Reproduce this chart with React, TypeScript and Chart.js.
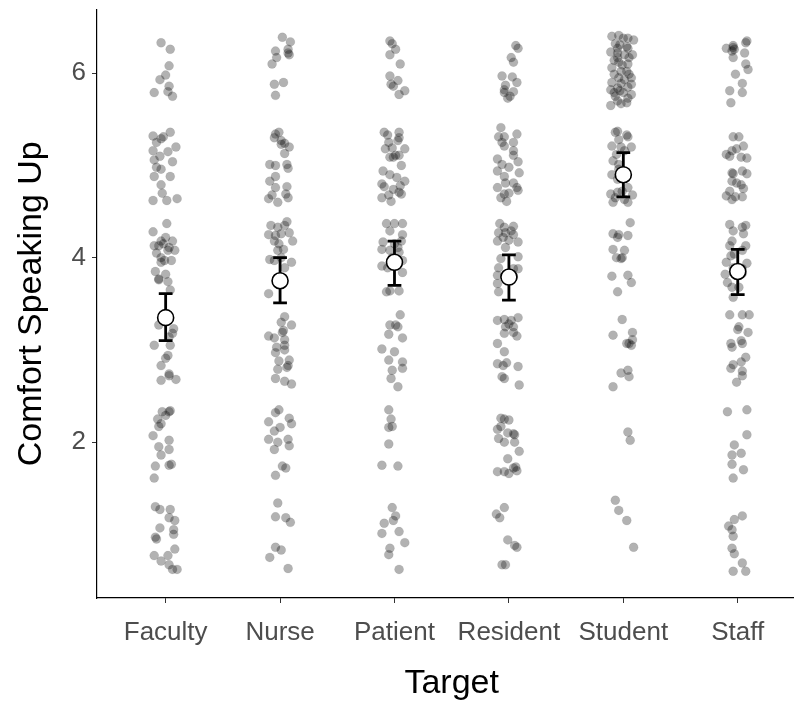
import { useEffect, useRef } from "react";
import { Chart, registerables } from "chart.js";

Chart.register(...registerables);

const categories = ["Faculty", "Nurse", "Patient", "Resident", "Student", "Staff"];
const yTickValues = [2, 4, 6];
const meanValues = [3.35, 3.75, 3.95, 3.79, 4.9, 3.85];
const ciLow = [3.1, 3.51, 3.7, 3.54, 4.66, 3.6];
const ciHigh = [3.61, 4.0, 4.18, 4.03, 5.14, 4.09];

// jitter in hundredths of a category step
const facultyY = [
  6.33, 6.26, 6.08, 5.98, 5.93, 5.86, 5.79, 5.8, 5.75,
  5.36, 5.32, 5.29, 5.31, 5.25, 5.2, 5.16, 5.15, 5.1, 5.06, 5.04, 4.98, 4.96, 4.88, 4.88, 4.79, 4.7, 4.62, 4.62, 4.64,
  4.37, 4.28, 4.22, 4.18, 4.13, 4.15, 4.18, 4.08, 4.05, 4.08, 4.0, 3.97, 3.97, 3.95, 4.13, 4.11, 3.85, 3.82, 3.76, 3.74, 3.65, 3.77,
  3.27, 3.23, 3.18, 3.14, 3.05, 3.05, 2.94, 2.91, 2.83, 2.74, 2.67, 2.68, 2.72,
  2.33, 2.33, 2.34, 2.25, 2.29, 2.2, 2.17, 2.07, 2.02, 1.95, 1.92, 1.86, 1.74, 1.75, 1.76, 1.61,
  1.3, 1.27, 1.27, 1.18, 1.15, 1.07, 1.05, 0.97, 0.95, 1.0, 0.84, 0.77, 0.77, 0.71, 0.67, 0.62, 0.62,
];
const facultyJitter = [
  -4, 4, 3, 0, -5, 3, -10, 2, 6,
  4, -11, -4, -2, -8, 9, -11, 2, -5, -10, 6, -8, -4, 4, -10, -4, -3, -11, 1, 10,
  1, -11, 0, -4, -10, -2, 6, 8, -8, 2, -4, -1, 5, -4, -6, 3, -9, 0, -6, 2, 4, -6,
  -6, 7, 6, 3, -10, 4, 2, 0, -4, 3, -4, 9, 3,
  -3, 3, 4, -7, 0, -4, -6, -11, 3, -6, 3, -4, -9, 3, 5, -10,
  -9, -5, 4, 3, 8, -5, 7, -9, -8, 7, 8, -10, 2, -4, 3, 6, 10,
];

const nurseY = [
  6.39, 6.34, 6.24, 6.26, 6.2, 6.17, 6.1, 6.22, 5.88, 5.9, 5.76,
  5.34, 5.36, 5.3, 5.27, 5.24, 5.2, 5.13, 5.01, 5.0, 5.01, 4.97, 4.88, 4.83, 4.76, 4.77, 4.69, 4.68, 4.65, 4.6, 4.64, 5.23,
  4.39, 4.35, 4.33, 4.35, 4.27, 4.25, 4.24, 4.26, 4.18, 4.18, 4.15, 4.09, 4.08, 3.98, 3.95, 3.89, 4.0, 3.97, 3.61,
  3.36, 3.3, 3.27, 3.21, 3.15, 3.13, 3.11, 3.03, 3.05, 2.97, 3.0, 2.88, 2.89, 2.81, 2.79, 2.69, 2.66, 2.63, 3.19, 2.83,
  2.35, 2.32, 2.22, 2.26, 2.2, 2.12, 2.16, 2.03, 2.0, 2.03, 1.96, 1.92, 1.74, 1.72, 1.64,
  1.34, 1.19, 1.18, 1.13, 0.86, 0.83, 0.75, 0.63,
];
const nurseJitter = [
  2, 9, -4, 7, 8, -3, -7, 7, -5, 3, -4,
  -4, -1, -5, 1, 4, 8, 4, -9, -4, 6, 7, -4, -9, -4, 6, 5, -7, 7, -2, -10, 1,
  6, -8, -2, 4, 8, -10, -4, 1, -5, 11, -1, 3, -2, -9, 10, 4, 1, -5, -10,
  4, 1, 10, 3, -10, -5, 4, -3, 4, -4, 4, -1, 8, 6, -2, -4, 4, 10, 2, 7,
  -1, -4, -10, 8, 10, -5, 0, -10, -2, 7, 8, -5, 2, 5, -4,
  -2, -4, 5, 9, -4, 1, -9, 7,
];

const patientY = [
  6.35, 6.32, 6.26, 6.2, 6.1, 5.97, 5.92, 5.88, 5.86, 5.81, 5.77,
  5.36, 5.33, 5.36, 5.3, 5.27, 5.25, 5.18, 5.18, 5.19, 5.11, 5.09, 5.11, 5.09, 5.0, 4.94, 4.9, 4.87, 4.83, 4.8, 4.77, 4.78, 4.74, 4.71, 4.68, 4.65, 4.61, 4.69,
  4.37, 4.37, 4.37, 4.29, 4.25, 4.18, 4.17, 4.15, 4.09, 4.08, 4.06, 3.97, 3.91, 3.89, 3.84, 3.63, 3.64, 3.64, 4.0, 4.11,
  3.38, 3.27, 3.27, 3.25, 3.17, 3.13, 3.01, 2.98, 2.89, 2.87, 2.78, 2.8, 2.69, 2.6,
  2.35, 2.25, 2.16, 2.17, 1.98, 1.75, 1.74,
  1.29, 1.2, 1.15, 1.12, 1.01, 1.03, 0.91, 0.85, 0.78, 0.62,
];
const patientJitter = [
  -4, -2, 1, -4, 5, -4, 3, -3, -1, 9, 4,
  -9, -6, 4, 4, 3, -5, -8, 9, -2, 1, -4, 4, -1, 6, -10, -4, 2, 9, -11, -9, 5, -1, 4, -5, -11, -3, 6,
  -7, 0, 7, -4, 7, 6, -10, 0, -11, -4, 4, 7, -11, -6, 7, -7, 4, -4, -2, 3,
  5, -4, 1, 3, -5, 7, -11, 0, -5, 7, -2, 7, -3, 3,
  -5, -3, -5, -2, -5, -11, 3,
  -2, 1, -1, -9, -11, 4, 9, -4, -5, 4,
];

const residentY = [
  6.3, 6.27, 6.17, 6.12, 5.97, 5.96, 5.9, 5.87, 5.8, 5.79, 5.73, 5.75, 5.82,
  5.41, 5.31, 5.31, 5.34, 5.25, 5.25, 5.21, 5.16, 5.11, 5.07, 5.04, 5.01, 4.98, 4.94, 4.92, 4.88, 4.81, 4.81, 4.76, 4.7, 4.76, 4.69, 4.65, 4.61, 4.73,
  4.37, 4.33, 4.34, 4.27, 4.27, 4.29, 4.22, 4.18, 4.19, 4.17, 4.25, 4.11, 3.99, 4.01, 3.89, 3.88, 3.88, 3.81, 3.79, 3.72, 3.63,
  3.32, 3.33, 3.32, 3.35, 3.25, 3.25, 3.18, 3.19, 3.15, 3.07, 2.98, 2.85, 2.83, 2.86, 2.82, 2.71, 2.69, 2.62, 3.28,
  2.26, 2.25, 2.24, 2.14, 2.17, 2.1, 2.09, 2.08, 2.04, 2.0, 2.0, 1.9, 1.82, 1.68, 1.68, 1.66, 1.72, 1.69, 1.73,
  1.29, 1.22, 1.18, 0.94, 0.88, 0.86, 0.67, 0.67,
];
const residentJitter = [
  6, 8, 2, 4, -6, 3, 7, -3, 4, -4, -1, 1, -4,
  -7, -9, -4, 7, -6, 4, -4, 4, 4, -10, 8, -6, 0, -10, 9, -4, -3, 4, -10, 0, 7, -4, -7, -2, 8,
  -8, -4, 4, -9, -3, 2, -5, -10, 0, 8, 4, -3, -7, 8, -9, 4, 8, -10, 4, -10, -9,
  -10, -4, 2, 8, -3, 4, -4, 4, 7, -10, -4, -10, -5, -2, 8, -6, -4, 9, 0,
  -7, -4, 0, -10, -7, -1, 4, 5, -9, -4, 5, 9, -1, -10, -4, 0, 4, 7, 6,
  -4, -11, -8, -1, 5, 7, -6, -3,
];

const studentY = [
  6.4, 6.41, 6.38, 6.36, 6.38, 6.32, 6.31, 6.29, 6.23, 6.22, 6.2, 6.2, 6.17, 6.14, 6.12, 6.09, 6.1, 6.17, 6.02, 5.99, 5.99, 5.95,
  5.93, 5.9, 5.89, 5.88, 5.84, 5.85, 5.82, 5.81, 5.79, 5.77, 5.75, 5.73, 5.7, 5.68, 5.65, 5.67, 5.79, 5.95, 6.02, 6.06, 6.27, 6.27,
  5.36, 5.37, 5.33, 5.28, 5.31, 5.21, 5.2, 5.2, 5.12, 5.16, 5.05, 5.01, 4.9, 4.85, 4.96, 4.69, 4.65, 4.63, 4.68, 4.71, 4.6, 4.72, 4.6, 4.76,
  4.38, 4.26, 4.25, 4.22, 4.24, 4.09, 4.08, 4.0, 3.99, 4.0, 3.8, 3.81, 3.73, 3.63,
  3.33, 3.16, 3.19, 3.07, 3.11, 3.07, 3.05, 2.78, 2.75, 2.71, 2.6,
  2.11, 2.02,
  1.37, 1.26, 1.15, 0.86,
];
const studentJitter = [
  -10, -4, 0, 9, 4, -7, -3, 3, -11, -5, 8, 1, 5, -8, -4, -1, 4, -5, 3, -8, 5, -4,
  1, -10, -2, 7, -5, 4, -11, -3, 0, 7, -7, 4, -5, 3, -11, -2, -8, 7, -2, -10, -5, 4,
  -7, -5, 3, -4, 4, -10, -2, 7, -6, 1, -9, -4, -10, -5, -4, -11, -7, 1, 8, -5, 4, -1, -9, 4,
  6, -9, -4, -5, 4, -9, 1, -6, -2, -1, -10, 4, 7, -5,
  -1, -9, 8, 3, 8, 5, 7, 4, -2, 5, -9,
  4, 6,
  -7, -4, 3, 9,
];

const staffY = [
  6.27, 6.3, 6.26, 6.33, 6.35, 6.22, 6.17, 6.1, 6.04, 5.99, 5.89, 5.81, 5.79, 5.68, 6.24, 6.28,
  5.31, 5.31, 5.21, 5.12, 5.16, 5.18, 5.1, 5.09, 5.08, 4.92, 4.91, 4.94, 4.91, 4.83, 4.81, 4.75, 4.67, 4.63, 4.66, 4.66, 4.72, 4.79,
  4.36, 4.33, 4.35, 4.29, 4.26, 4.18, 4.13, 4.13, 4.08, 3.95, 3.94, 3.89, 3.88, 3.82, 3.83, 3.73, 3.68, 3.68, 3.57, 4.04, 4.02,
  3.38, 3.38, 3.38, 3.25, 3.22, 3.19, 3.07, 3.03, 3.1, 3.07, 2.92, 2.84, 2.8, 2.87, 2.77, 2.72, 2.65,
  2.33, 2.35, 2.08, 1.97, 1.86, 1.88, 1.76, 1.7, 1.61,
  1.2, 1.16, 1.09, 1.05, 0.98, 0.85, 0.79, 0.69, 0.6, 0.6,
];
const staffJitter = [
  -10, -4, -3, 7, 8, 6, -4, 7, 9, -2, 4, -7, 4, -6, -5, -4,
  -4, 1, 5, -10, -5, -1, -7, 3, 8, -5, -4, 4, 8, -5, -1, 5, -10, -5, -2, 4, -7, 3,
  -7, 4, 7, -4, 5, -5, -7, 7, 4, -10, 8, -4, 4, -11, 4, -9, -5, 1, -4, -3, -6,
  -7, 4, 10, 1, 0, 9, -6, -5, 3, 4, 7, -4, -6, 3, 4, 4, -1,
  -9, 8, 8, -3, -5, 3, -5, 5, -4,
  4, -3, -8, -5, -4, -5, -3, 4, -4, 7,
];

const seriesY = [facultyY, nurseY, patientY, residentY, studentY, staffY];
const seriesJitter = [facultyJitter, nurseJitter, patientJitter, residentJitter, studentJitter, staffJitter];

const FONT = "'Liberation Sans', Arial, Helvetica, sans-serif";

export default function App() {
  const canvasRef = useRef<HTMLCanvasElement | null>(null);

  useEffect(() => {
    if (!canvasRef.current) return;
    const points: { x: number; y: number }[] = [];
    seriesY.forEach((ys, ci) => {
      ys.forEach((y, k) => {
        points.push({ x: ci + 1 + (seriesJitter[ci][k] ?? 0) / 100, y });
      });
    });
    const means = meanValues.map((m, i) => ({ x: i + 1, y: m }));

    const errorBarPlugin = {
      id: "errorBars",
      afterDatasetDraw(chart: any, args: any) {
        if (args.index !== 1) return;
        const { ctx, scales } = chart;
        const xs = scales.x;
        const ys = scales.y;
        ctx.save();
        ctx.strokeStyle = "#000";
        ctx.lineWidth = 2.8;
        ctx.lineCap = "butt";
        meanValues.forEach((_, i) => {
          const cx = xs.getPixelForValue(i + 1);
          const half = xs.getPixelForValue(i + 1.06) - cx;
          const yLo = ys.getPixelForValue(ciLow[i]);
          const yHi = ys.getPixelForValue(ciHigh[i]);
          ctx.beginPath();
          ctx.moveTo(cx, yLo);
          ctx.lineTo(cx, yHi);
          ctx.moveTo(cx - half, yLo);
          ctx.lineTo(cx + half, yLo);
          ctx.moveTo(cx - half, yHi);
          ctx.lineTo(cx + half, yHi);
          ctx.stroke();
        });
        ctx.restore();
      },
    };

    const chart = new Chart(canvasRef.current, {
      type: "scatter",
      data: {
        datasets: [
          {
            label: "Mean",
            data: means,
            pointRadius: 8,
            pointBackgroundColor: "#ffffff",
            pointBorderColor: "#000000",
            pointBorderWidth: 1.6,
          },
          {
            label: "Responses",
            data: points,
            pointRadius: 4.5,
            pointBackgroundColor: "rgba(0,0,0,0.3)",
            pointBorderColor: "rgba(0,0,0,0.12)",
            pointBorderWidth: 0.6,
          },
        ],
      },
      plugins: [errorBarPlugin],
      options: {
        animation: false,
        responsive: false,
        maintainAspectRatio: false,
        devicePixelRatio: 1,
        layout: { padding: { top: 8, right: 0, left: 0, bottom: 0 } },
        plugins: {
          legend: { display: false },
          tooltip: { enabled: false },
        },
        scales: {
          x: {
            type: "linear",
            min: 0.4,
            max: 6.6,
            afterBuildTicks: (s: any) => {
              s.ticks = categories.map((_, i) => ({ value: i + 1 }));
            },
            afterFit: (s: any) => {
              s.height = 106;
              s.paddingLeft = 0;
              s.paddingRight = 0;
            },
            ticks: {
              autoSkip: false,
              maxRotation: 0,
              padding: 14,
              color: "#4d4d4d",
              font: { family: FONT, size: 26 },
              callback: (v: any) => categories[Math.round(Number(v)) - 1] ?? "",
            },
            grid: {
              display: true,
              drawOnChartArea: false,
              drawTicks: true,
              tickLength: 5,
              color: "#333333",
              lineWidth: 1,
            },
            border: { display: true, color: "#000000", width: 1.2 },
            title: {
              display: true,
              text: "Target",
              color: "#000000",
              font: { family: FONT, size: 34 },
              padding: { top: 0, bottom: 0 },
            },
          },
          y: {
            type: "linear",
            min: 0.31,
            max: 6.69,
            afterBuildTicks: (s: any) => {
              s.ticks = yTickValues.map((v) => ({ value: v }));
            },
            afterFit: (s: any) => {
              s.width = 97;
              s.paddingTop = 0;
              s.paddingBottom = 0;
            },
            ticks: {
              padding: 6,
              color: "#4d4d4d",
              font: { family: FONT, size: 26 },
              callback: (v: any) => String(v),
            },
            grid: {
              display: true,
              drawOnChartArea: false,
              drawTicks: true,
              tickLength: 5,
              color: "#333333",
              lineWidth: 1,
            },
            border: { display: true, color: "#000000", width: 1.2 },
            title: {
              display: true,
              text: "Comfort Speaking Up",
              color: "#000000",
              font: { family: FONT, size: 34 },
              padding: { top: 11, bottom: 0 },
            },
          },
        },
      },
    });
    return () => chart.destroy();
  }, []);

  return (
    <div
      style={{
        position: "absolute",
        left: 0,
        top: 0,
        width: 794,
        height: 704,
        overflow: "hidden",
        background: "#fff",
      }}
    >
      <canvas ref={canvasRef} width={816} height={704} style={{ display: "block" }} />
    </div>
  );
}
